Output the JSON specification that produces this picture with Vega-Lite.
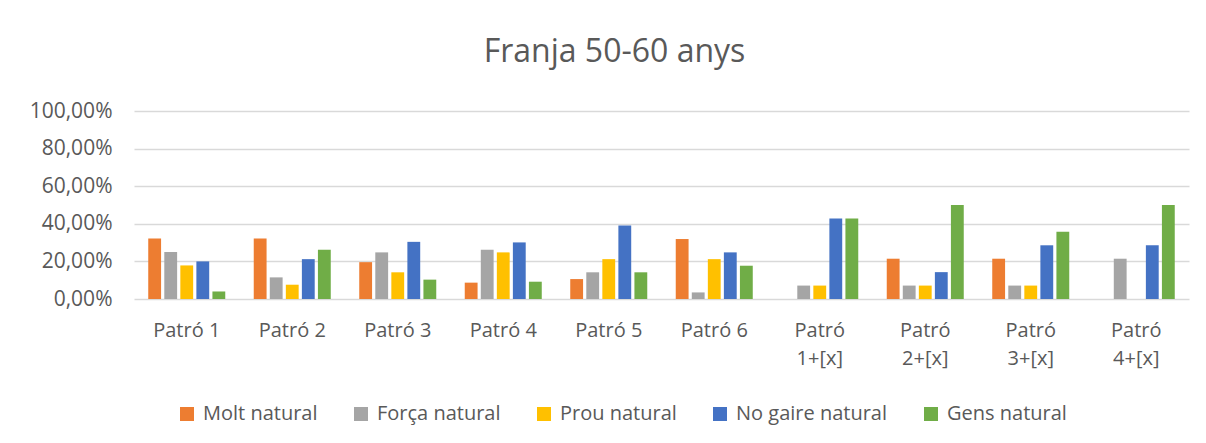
{
  "$schema": "https://vega.github.io/schema/vega-lite/v6.json",
  "width": 1055,
  "height": 188,
  "autosize": {"type": "none"},
  "padding": {"left": 134, "top": 111, "right": 17, "bottom": 144},
  "background": "white",
  "title": {
    "text": "Franja 50-60 anys",
    "fontSize": 32,
    "font": "Open Sans",
    "fontWeight": "normal",
    "color": "#595959",
    "anchor": "middle",
    "offset": 31,
    "dx": -47
  },
  "data": {
    "values": [
      {"patro": "Patró 1", "serie": "Molt natural", "value": 0.3214},
      {"patro": "Patró 1", "serie": "Força natural", "value": 0.25},
      {"patro": "Patró 1", "serie": "Prou natural", "value": 0.1786},
      {"patro": "Patró 1", "serie": "No gaire natural", "value": 0.2},
      {"patro": "Patró 1", "serie": "Gens natural", "value": 0.04},
      {"patro": "Patró 2", "serie": "Molt natural", "value": 0.3214},
      {"patro": "Patró 2", "serie": "Força natural", "value": 0.115},
      {"patro": "Patró 2", "serie": "Prou natural", "value": 0.076},
      {"patro": "Patró 2", "serie": "No gaire natural", "value": 0.212},
      {"patro": "Patró 2", "serie": "Gens natural", "value": 0.262},
      {"patro": "Patró 3", "serie": "Molt natural", "value": 0.196},
      {"patro": "Patró 3", "serie": "Força natural", "value": 0.248},
      {"patro": "Patró 3", "serie": "Prou natural", "value": 0.142},
      {"patro": "Patró 3", "serie": "No gaire natural", "value": 0.304},
      {"patro": "Patró 3", "serie": "Gens natural", "value": 0.103},
      {"patro": "Patró 4", "serie": "Molt natural", "value": 0.087},
      {"patro": "Patró 4", "serie": "Força natural", "value": 0.262},
      {"patro": "Patró 4", "serie": "Prou natural", "value": 0.248},
      {"patro": "Patró 4", "serie": "No gaire natural", "value": 0.301},
      {"patro": "Patró 4", "serie": "Gens natural", "value": 0.092},
      {"patro": "Patró 5", "serie": "Molt natural", "value": 0.106},
      {"patro": "Patró 5", "serie": "Força natural", "value": 0.142},
      {"patro": "Patró 5", "serie": "Prou natural", "value": 0.212},
      {"patro": "Patró 5", "serie": "No gaire natural", "value": 0.391},
      {"patro": "Patró 5", "serie": "Gens natural", "value": 0.142},
      {"patro": "Patró 6", "serie": "Molt natural", "value": 0.319},
      {"patro": "Patró 6", "serie": "Força natural", "value": 0.035},
      {"patro": "Patró 6", "serie": "Prou natural", "value": 0.212},
      {"patro": "Patró 6", "serie": "No gaire natural", "value": 0.248},
      {"patro": "Patró 6", "serie": "Gens natural", "value": 0.177},
      {"patro": "Patró 1+[x]", "serie": "Molt natural", "value": 0},
      {"patro": "Patró 1+[x]", "serie": "Força natural", "value": 0.0714},
      {"patro": "Patró 1+[x]", "serie": "Prou natural", "value": 0.0714},
      {"patro": "Patró 1+[x]", "serie": "No gaire natural", "value": 0.4286},
      {"patro": "Patró 1+[x]", "serie": "Gens natural", "value": 0.4286},
      {"patro": "Patró 2+[x]", "serie": "Molt natural", "value": 0.2143},
      {"patro": "Patró 2+[x]", "serie": "Força natural", "value": 0.0714},
      {"patro": "Patró 2+[x]", "serie": "Prou natural", "value": 0.0714},
      {"patro": "Patró 2+[x]", "serie": "No gaire natural", "value": 0.1429},
      {"patro": "Patró 2+[x]", "serie": "Gens natural", "value": 0.5},
      {"patro": "Patró 3+[x]", "serie": "Molt natural", "value": 0.2143},
      {"patro": "Patró 3+[x]", "serie": "Força natural", "value": 0.0714},
      {"patro": "Patró 3+[x]", "serie": "Prou natural", "value": 0.0714},
      {"patro": "Patró 3+[x]", "serie": "No gaire natural", "value": 0.2857},
      {"patro": "Patró 3+[x]", "serie": "Gens natural", "value": 0.3571},
      {"patro": "Patró 4+[x]", "serie": "Molt natural", "value": 0},
      {"patro": "Patró 4+[x]", "serie": "Força natural", "value": 0.2143},
      {"patro": "Patró 4+[x]", "serie": "Prou natural", "value": 0},
      {"patro": "Patró 4+[x]", "serie": "No gaire natural", "value": 0.2857},
      {"patro": "Patró 4+[x]", "serie": "Gens natural", "value": 0.5}
    ]
  },
  "mark": {"type": "bar"},
  "encoding": {
    "x": {
      "field": "patro",
      "type": "nominal",
      "sort": null,
      "scale": {"paddingInner": 0.27, "paddingOuter": 0.135},
      "axis": {
        "title": null,
        "labelAngle": 0,
        "labelFont": "Open Sans",
        "labelFontSize": 20,
        "labelColor": "#595959",
        "labelPadding": 21,
        "labelLineHeight": 28,
        "labelExpr": "indexof(datum.label, '+') > 0 ? split(datum.label, ' ') : datum.label",
        "ticks": false,
        "domain": false,
        "grid": false
      }
    },
    "xOffset": {
      "field": "serie",
      "type": "nominal",
      "sort": ["Molt natural", "Força natural", "Prou natural", "No gaire natural", "Gens natural"],
      "scale": {"paddingInner": 0.2, "paddingOuter": 0}
    },
    "y": {
      "field": "value",
      "type": "quantitative",
      "scale": {"domain": [0, 1], "nice": false},
      "axis": {
        "title": null,
        "values": [0, 0.2, 0.4, 0.6, 0.8, 1],
        "labelExpr": "replace(format(datum.value, '.2%'), '.', ',')",
        "labelFont": "Open Sans",
        "labelFontSize": 21,
        "labelColor": "#595959",
        "labelPadding": 22,
        "ticks": false,
        "domain": false,
        "grid": true,
        "gridColor": "#d9d9d9",
        "gridWidth": 1.5
      }
    },
    "color": {
      "field": "serie",
      "type": "nominal",
      "sort": ["Molt natural", "Força natural", "Prou natural", "No gaire natural", "Gens natural"],
      "scale": {
        "domain": ["Molt natural", "Força natural", "Prou natural", "No gaire natural", "Gens natural"],
        "range": ["#ED7D31", "#A5A5A5", "#FFC000", "#4472C4", "#70AD47"]
      },
      "legend": {
        "title": null,
        "orient": "none",
        "legendX": 43,
        "legendY": 293,
        "direction": "horizontal",
        "symbolType": "square",
        "symbolSize": 196,
        "symbolStrokeWidth": 0,
        "labelFont": "Open Sans",
        "labelFontSize": 20,
        "labelColor": "#595959",
        "columnPadding": 33,
        "labelOffset": 6
      }
    }
  },
  "config": {
    "view": {"stroke": null}
  }
}
